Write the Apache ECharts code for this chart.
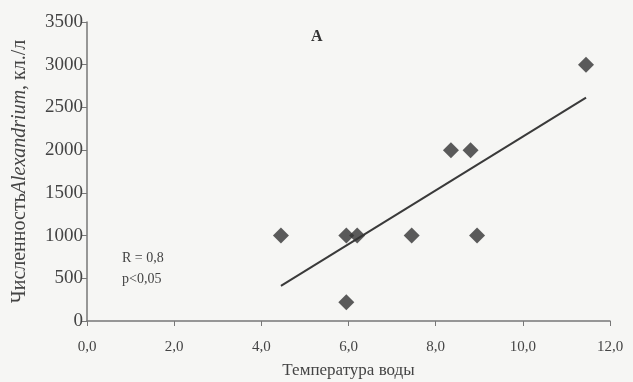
<!DOCTYPE html>
<html>
<head>
<meta charset="utf-8">
<script src="https://cdn.jsdelivr.net/npm/echarts@6/dist/echarts.min.js"></script>
<style>
  html, body { margin: 0; padding: 0; background: #f6f6f4; }
  #chart { width: 633px; height: 382px; }
</style>
</head>
<body>
<div id="chart"></div>
<script>
// температура воды и численность
var tempX = [4.45, 5.95, 6.2, 7.45, 8.35, 8.8, 8.95, 11.45, 5.95];
var countY = [1000, 1000, 1000, 1000, 2000, 2000, 1000, 3000, 220];
// линия тренда (концы)
var trendX = [4.45, 11.45];
var trendY = [410, 2615];
var xTicks = [0, 2, 4, 6, 8, 10, 12];
var yTicks = [0, 500, 1000, 1500, 2000, 2500, 3000, 3500];

var points = tempX.map(function (x, i) { return [x, countY[i]]; });
var trend = trendX.map(function (x, i) { return [x, trendY[i]]; });

var serif = '"Liberation Serif", "DejaVu Serif", serif';
var chart = echarts.init(document.getElementById('chart'));

chart.setOption({
  backgroundColor: '#f6f6f4',
  animation: false,
  grid: { left: 87, right: 23, top: 22, bottom: 61, outerBoundsMode: 'none' },
  xAxis: {
    type: 'value',
    min: xTicks[0],
    max: xTicks[xTicks.length - 1],
    interval: 2,
    name: 'Температура воды',
    nameLocation: 'middle',
    nameGap: 41,
    nameTextStyle: { fontFamily: serif, fontSize: 17, color: '#444' },
    axisLine: { lineStyle: { color: '#777', width: 1.5 } },
    axisTick: { show: true, length: 5, lineStyle: { color: '#777' } },
    axisLabel: {
      fontFamily: serif, fontSize: 15, color: '#444', margin: 19,
      formatter: function (v) { return v.toFixed(1).replace('.', ','); }
    },
    splitLine: { show: false }
  },
  yAxis: {
    type: 'value',
    min: yTicks[0],
    max: yTicks[yTicks.length - 1],
    interval: 500,
    name: '{n|Численность}{i|Alexandrium}{n|, кл./л}',
    nameLocation: 'middle',
    nameGap: 57,
    nameTextStyle: {
      rich: {
        n: { fontFamily: serif, fontSize: 20, color: '#444' },
        i: { fontFamily: serif, fontSize: 20, color: '#444', fontStyle: 'italic' }
      }
    },
    axisLine: { show: true, lineStyle: { color: '#777', width: 1.5 } },
    axisTick: { show: true, length: 5, lineStyle: { color: '#777' } },
    axisLabel: {
      fontFamily: serif, fontSize: 19, color: '#444', margin: 4,
      formatter: function (v) { return String(v); }
    },
    splitLine: { show: false }
  },
  series: [
    {
      type: 'line',
      data: trend,
      symbol: 'none',
      lineStyle: { color: '#3a3a3a', width: 2 },
      z: 2
    },
    {
      type: 'scatter',
      data: points,
      symbol: 'diamond',
      symbolSize: 16,
      itemStyle: { color: '#333' },
      z: 3
    }
  ],
  graphic: [
    {
      type: 'text', left: 311, top: 29,
      style: { text: 'A', fontFamily: serif, fontSize: 16, fontWeight: 'bold', fill: '#333' }
    },
    {
      type: 'text', left: 122, top: 251,
      style: { text: 'R = 0,8', fontFamily: serif, fontSize: 14, fill: '#444' }
    },
    {
      type: 'text', left: 122, top: 272,
      style: { text: 'p<0,05', fontFamily: serif, fontSize: 14, fill: '#444' }
    }
  ]
});
</script>
</body>
</html>
